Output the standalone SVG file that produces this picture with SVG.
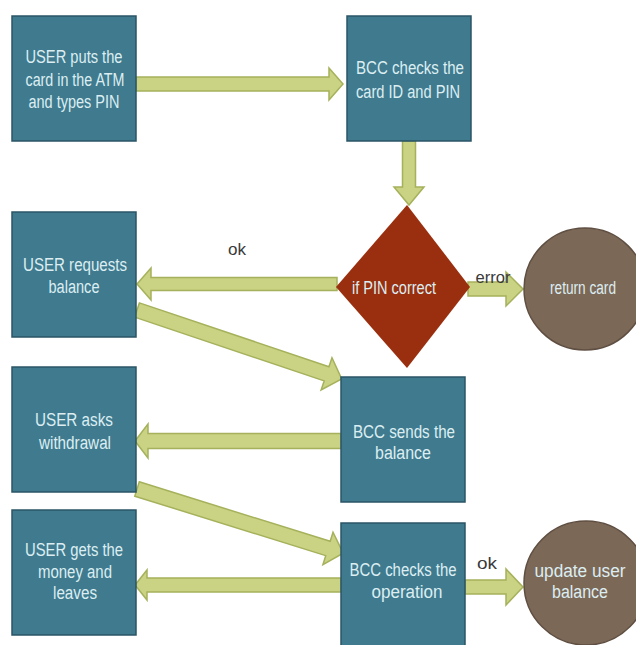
<svg xmlns="http://www.w3.org/2000/svg" width="636" height="645" viewBox="0 0 636 645">
  <defs>
    <style>
      .box { fill: #3F7A8E; stroke: #2A5565; stroke-width: 1.5; }
      .dec { fill: #992F0E; }
      .end { fill: #7C6857; stroke: #5F4F42; stroke-width: 1.5; }
      .arrow { fill: #CAD283; stroke: #A6B15B; stroke-width: 1.5; stroke-linejoin: miter; }
      .t { font-family: "Liberation Sans", Arial, sans-serif; font-size: 18px; fill: #DCEEF2; text-anchor: middle; }
      .lbl { font-family: "Liberation Sans", Arial, sans-serif; font-size: 16px; fill: #3A3A3A; text-anchor: middle; }
    </style>
  </defs>

  <rect width="636" height="645" fill="#FFFFFF"/>

  <!-- connectors: block arrows, drawn along +x then rotated into place -->
  <g id="connectors">
    <!-- card entered -> BCC check -->
    <path class="arrow" transform="translate(136,84)" d="M0,-7 H193 V-16 L207,0 L193,16 V7 H0 Z"/>
    <!-- BCC check -> PIN decision -->
    <path class="arrow" transform="translate(409,141) rotate(90)" d="M0,-6.5 H46 V-15 L64,0 L46,15 V6.5 H0 Z"/>
    <!-- decision ok -> request balance -->
    <path class="arrow" transform="translate(337,284) rotate(180)" d="M0,-6.5 H186 V-16 L200,0 L186,16 V6.5 H0 Z"/>
    <!-- decision error -> return card -->
    <path class="arrow" transform="translate(468,289)" d="M0,-7 H38 V-17 L55,0 L38,17 V7 H0 Z"/>
    <!-- request balance -> BCC sends balance -->
    <path class="arrow" transform="translate(137,310) rotate(18.6)" d="M0,-7.5 H200 V-17 L216,0 L200,17 V7.5 H0 Z"/>
    <!-- BCC sends balance -> asks withdrawal -->
    <path class="arrow" transform="translate(341,441) rotate(180)" d="M0,-7.5 H193 V-17 L206,0 L193,17 V7.5 H0 Z"/>
    <!-- asks withdrawal -> BCC checks operation -->
    <path class="arrow" transform="translate(137,489) rotate(17.3)" d="M0,-7.5 H200 V-17 L216,0 L200,17 V7.5 H0 Z"/>
    <!-- BCC checks operation -> gets money -->
    <path class="arrow" transform="translate(341,585) rotate(180)" d="M0,-7 H194 V-15 L206,0 L194,15 V7 H0 Z"/>
    <!-- operation ok -> update balance -->
    <path class="arrow" transform="translate(465,587)" d="M0,-7 H41 V-18 L58,0 L41,18 V7 H0 Z"/>

    <text class="lbl" x="237" y="255" textLength="18" lengthAdjust="spacingAndGlyphs">ok</text>
    <text class="lbl" x="493" y="283" textLength="35" lengthAdjust="spacingAndGlyphs">error</text>
    <text class="lbl" x="487" y="569" textLength="20" lengthAdjust="spacingAndGlyphs">ok</text>
  </g>

  <g id="user-card">
    <rect class="box" x="12" y="16" width="124" height="125"/>
    <text class="t" x="74" y="63" textLength="97" lengthAdjust="spacingAndGlyphs">USER puts the</text>
    <text class="t" x="75" y="86" textLength="99" lengthAdjust="spacingAndGlyphs">card in the ATM</text>
    <text class="t" x="74" y="108" textLength="91" lengthAdjust="spacingAndGlyphs">and types PIN</text>
  </g>

  <g id="bcc-check-card">
    <rect class="box" x="347" y="16" width="124" height="125"/>
    <text class="t" x="410" y="74" textLength="108" lengthAdjust="spacingAndGlyphs">BCC checks the</text>
    <text class="t" x="408" y="98" textLength="104" lengthAdjust="spacingAndGlyphs">card ID and PIN</text>
  </g>

  <g id="pin-decision">
    <polygon class="dec" points="407,205 470,287 407,368 336,287"/>
    <text class="t" x="394" y="294" textLength="84" lengthAdjust="spacingAndGlyphs">if PIN correct</text>
  </g>

  <g id="return-card">
    <circle class="end" cx="585" cy="289" r="61"/>
    <text class="t" x="583" y="294" textLength="66" lengthAdjust="spacingAndGlyphs">return card</text>
  </g>

  <g id="user-request-balance">
    <rect class="box" x="12" y="212" width="124" height="125"/>
    <text class="t" x="75" y="271" textLength="104" lengthAdjust="spacingAndGlyphs">USER requests</text>
    <text class="t" x="74" y="293" textLength="51" lengthAdjust="spacingAndGlyphs">balance</text>
  </g>

  <g id="bcc-send-balance">
    <rect class="box" x="341" y="377" width="124" height="125"/>
    <text class="t" x="404" y="438" textLength="102" lengthAdjust="spacingAndGlyphs">BCC sends the</text>
    <text class="t" x="403" y="459" textLength="56" lengthAdjust="spacingAndGlyphs">balance</text>
  </g>

  <g id="user-withdrawal">
    <rect class="box" x="12" y="367" width="124" height="125"/>
    <text class="t" x="74" y="426" textLength="78" lengthAdjust="spacingAndGlyphs">USER asks</text>
    <text class="t" x="75" y="449" textLength="72" lengthAdjust="spacingAndGlyphs">withdrawal</text>
  </g>

  <g id="user-leaves">
    <rect class="box" x="12" y="510" width="124" height="125"/>
    <text class="t" x="74" y="556" textLength="98" lengthAdjust="spacingAndGlyphs">USER gets the</text>
    <text class="t" x="75" y="578" textLength="74" lengthAdjust="spacingAndGlyphs">money and</text>
    <text class="t" x="75" y="599" textLength="44" lengthAdjust="spacingAndGlyphs">leaves</text>
  </g>

  <g id="bcc-check-operation">
    <rect class="box" x="341" y="523" width="124" height="126"/>
    <text class="t" x="403" y="576" textLength="107" lengthAdjust="spacingAndGlyphs">BCC checks the</text>
    <text class="t" x="407" y="598" textLength="71" lengthAdjust="spacingAndGlyphs">operation</text>
  </g>

  <g id="update-balance">
    <circle class="end" cx="586" cy="583" r="62"/>
    <text class="t" x="580" y="577" textLength="91" lengthAdjust="spacingAndGlyphs">update user</text>
    <text class="t" x="580" y="598" textLength="56" lengthAdjust="spacingAndGlyphs">balance</text>
  </g>
</svg>
